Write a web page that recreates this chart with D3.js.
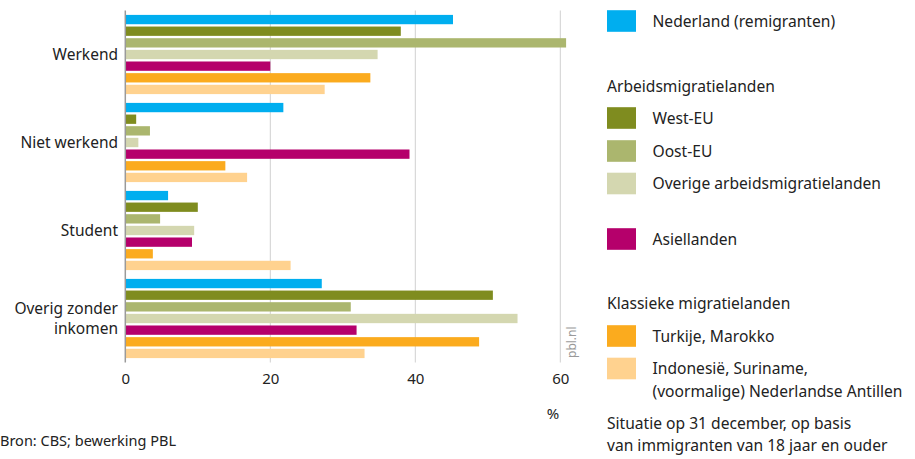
<!DOCTYPE html>
<html>
<head>
<meta charset="utf-8">
<script src="https://cdn.jsdelivr.net/npm/d3@7"></script>
<style>
  body { margin: 0; background: #fff; }
  svg text { font-family: "Noto Sans", "Open Sans", sans-serif; fill: #222; }
</style>
</head>
<body>
<svg id="chart" width="915" height="459"></svg>
<script>
// categories (y groups), top to bottom
var categories = ['Werkend', 'Niet werkend', 'Student', 'Overig zonder inkomen'];
var category_lines = [['Werkend'], ['Niet werkend'], ['Student'], ['Overig zonder', 'inkomen']];

// series, in drawing order within each group
var series = ['Nederland (remigranten)', 'West-EU', 'Oost-EU', 'Overige arbeidsmigratielanden',
              'Asiellanden', 'Turkije, Marokko', 'Indonesië, Suriname, (voormalige) Nederlandse Antillen'];
var series_colors = ['#00aeef', '#7f8c1f', '#abb66e', '#d4d7b0', '#b5006b', '#fbab1e', '#ffd28f'];

// percentages per series, one value per category
var nederland = [45.2, 21.8, 5.9, 27.1];
var west_eu = [38.0, 1.5, 10.0, 50.7];
var oost_eu = [60.8, 3.4, 4.8, 31.1];
var overige = [34.8, 1.8, 9.5, 54.1];
var asiel = [20.0, 39.2, 9.2, 31.9];
var turkije = [33.8, 13.8, 3.8, 48.8];
var indonesie = [27.5, 16.8, 22.8, 33.0];
var values = [nederland, west_eu, oost_eu, overige, asiel, turkije, indonesie];

var x_ticks = [0, 20, 40, 60];

// legend: rows with optional swatch
var legend_rows = [
	{ type: 'item', s: 0, y: 21, lines: ['Nederland (remigranten)'] },
	{ type: 'head', y: 86, lines: ['Arbeidsmigratielanden'] },
	{ type: 'item', s: 1, y: 118, lines: ['West-EU'] },
	{ type: 'item', s: 2, y: 151, lines: ['Oost-EU'] },
	{ type: 'item', s: 3, y: 183.5, lines: ['Overige arbeidsmigratielanden'] },
	{ type: 'item', s: 4, y: 239, lines: ['Asiellanden'] },
	{ type: 'head', y: 303, lines: ['Klassieke migratielanden'] },
	{ type: 'item', s: 5, y: 336, lines: ['Turkije, Marokko'] },
	{ type: 'item', s: 6, y: 368.5, lines: ['Indonesië, Suriname,', '(voormalige) Nederlandse Antillen'] },
	{ type: 'head', y: 423, lines: ['Situatie op 31 december, op basis', 'van immigranten van 18 jaar en ouder'] }
];

var svg = d3.select('#chart');
var PLOT_LEFT = 125.3, PLOT_TOP = 10.5, PLOT_BOTTOM = 362.5;

var x = d3.scaleLinear().domain([0, 60]).range([PLOT_LEFT, PLOT_LEFT + 435]);
var y0 = d3.scaleBand().domain(categories).range([PLOT_TOP, PLOT_BOTTOM]).paddingInner(0.1).paddingOuter(0.05);
var y1 = d3.scaleBand().domain(d3.range(series.length)).range([0, y0.bandwidth()]).paddingInner(0.2).paddingOuter(0);

// gridlines
svg.append('g')
	.selectAll('line')
	.data(x_ticks.slice(1))
	.join('line')
	.attr('x1', function(d) { return x(d); })
	.attr('x2', function(d) { return x(d); })
	.attr('y1', PLOT_TOP)
	.attr('y2', PLOT_BOTTOM)
	.attr('stroke', '#d0d0d0')
	.attr('stroke-width', 1);

// bars
var groups = svg.append('g')
	.selectAll('g')
	.data(categories)
	.join('g')
	.attr('transform', function(d) { return 'translate(0,' + y0(d) + ')'; });

groups.selectAll('rect')
	.data(function(d, ci) { return values.map(function(v, si) { return { s: si, v: v[ci] }; }); })
	.join('rect')
	.attr('x', x(0))
	.attr('y', function(d) { return y1(d.s); })
	.attr('width', function(d) { return x(d.v) - x(0); })
	.attr('height', y1.bandwidth())
	.attr('fill', function(d) { return series_colors[d.s]; });

// y axis line
svg.append('line')
	.attr('x1', x(0)).attr('x2', x(0))
	.attr('y1', PLOT_TOP).attr('y2', PLOT_BOTTOM)
	.attr('stroke', '#9a9a9a')
	.attr('stroke-width', 1.5);

// category labels
categories.forEach(function(c, i) {
	var lines = category_lines[i];
	var cy = y0(c) + y0.bandwidth() / 2;
	var t = svg.append('text')
		.attr('x', 118)
		.attr('text-anchor', 'end')
		.style('font-size', '15.5px');
	lines.forEach(function(l, li) {
		t.append('tspan')
			.attr('x', 118)
			.attr('y', cy + 5 + (li - (lines.length - 1) / 2) * 20)
			.text(l);
	});
});

// x axis labels
svg.append('g')
	.attr('transform', 'translate(0,' + 384 + ')')
	.call(d3.axisBottom(x).tickValues(x_ticks).tickSize(0).tickPadding(0))
	.call(function(g) { g.select('.domain').remove(); })
	.selectAll('text')
	.style('font-size', '15px')
	.style('font-family', '"Noto Sans", sans-serif')
	.attr('fill', '#222')
	.attr('dy', 0);

svg.append('text')
	.attr('x', 553).attr('y', 419)
	.attr('text-anchor', 'middle')
	.style('font-size', '15px')
	.text('%');

svg.append('text')
	.attr('x', 0).attr('y', 446)
	.style('font-size', '14.5px')
	.text('Bron: CBS; bewerking PBL');

// pbl.nl watermark
svg.append('text')
	.attr('transform', 'translate(576,358) rotate(-90)')
	.style('font-size', '12px')
	.style('fill', '#999')
	.text('pbl.nl');

// legend
var legend = svg.append('g');
legend_rows.forEach(function(r) {
	if(r.type == 'item')
	{
		legend.append('rect')
			.attr('x', 607).attr('y', r.y - 10.8)
			.attr('width', 29).attr('height', 21.6)
			.attr('fill', series_colors[r.s]);
	}
	var tx = r.type == 'item' ? 652.5 : 607;
	var t = legend.append('text').style('font-size', '15.6px');
	r.lines.forEach(function(l, li) {
		t.append('tspan')
			.attr('x', tx)
			.attr('y', r.y + 5.5 + li * 22.5)
			.text(l);
	});
});
</script>
</body>
</html>
